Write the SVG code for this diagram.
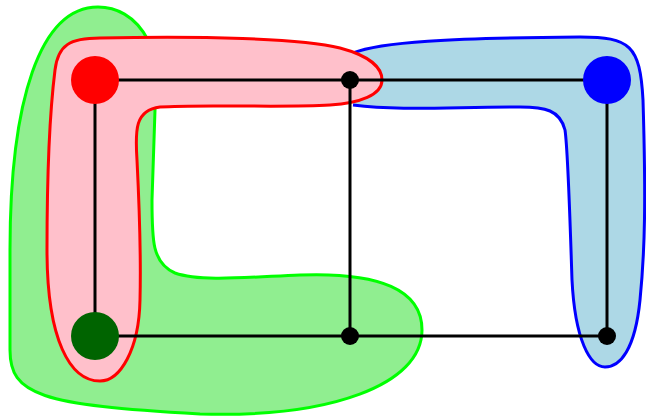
<svg xmlns="http://www.w3.org/2000/svg" width="646" height="420" viewBox="0 0 646 420">
<style>
.hull{stroke-width:3;stroke-linejoin:round}
.edge{stroke:#000;stroke-width:3;fill:none}
.dot{fill:#000}
</style>
<rect width="646" height="420" fill="#fff"/>
<g id="hulls">
<path id="hull-green" class="hull" fill="#90EE90" stroke="#00FF00" d="M 148,40 C 135,15 115,7 98,7 C 40,7 10,100 10,250 L 10,350 C 10,395 40,405 200,414 C 330,418 422,385 422,330 C 422,290 380,272 300,275 C 250,277 200,282 175,273 C 152,263 152,240 152,200 L 155,110 L 152,40 Z"/>
<path id="hull-blue" class="hull" fill="#ADD8E6" stroke="#0000FF" d="M 353,53 C 380,42 450,38 580,37 C 630,37 640,45 643,100 C 646,200 645,250 640,300 C 635,350 620,367 605,367 C 590,367 575,340 572,280 C 570,220 568,150 565,130 C 560,110 545,107 520,107 C 450,107 400,111 353,105"/>
<path id="hull-pink" class="hull" fill="#FFC0CB" stroke="#FF0000" d="M 100,38 C 200,36 300,38 340,48 C 370,56 382,68 382,80 C 382,95 360,103 330,105 C 280,108 200,104 160,107 C 135,110 135,130 137,160 C 140,220 141,260 140,300 C 139,350 120,381 100,381 C 70,381 47,340 47,250 C 47,180 50,110 55,70 C 58,45 70,38 100,38 Z"/>
</g>
<g id="connectors">
<line class="edge" x1="95" y1="80" x2="607" y2="80"/>
<line class="edge" x1="95" y1="336" x2="607" y2="336"/>
<line class="edge" x1="95" y1="80" x2="95" y2="336"/>
<line class="edge" x1="350" y1="80" x2="350" y2="336"/>
<line class="edge" x1="607" y1="80" x2="607" y2="336"/>
</g>
<g id="node-red"><circle cx="95" cy="80" r="24" fill="#FF0000"/></g>
<g id="node-blue"><circle cx="607" cy="80" r="24" fill="#0000FF"/></g>
<g id="node-darkgreen"><circle cx="95" cy="336" r="24" fill="#006400"/></g>
<g id="node-top-mid"><circle class="dot" cx="350" cy="80" r="9"/></g>
<g id="node-bottom-mid"><circle class="dot" cx="350" cy="336" r="9"/></g>
<g id="node-bottom-right"><circle class="dot" cx="607" cy="336" r="9"/></g>
</svg>
